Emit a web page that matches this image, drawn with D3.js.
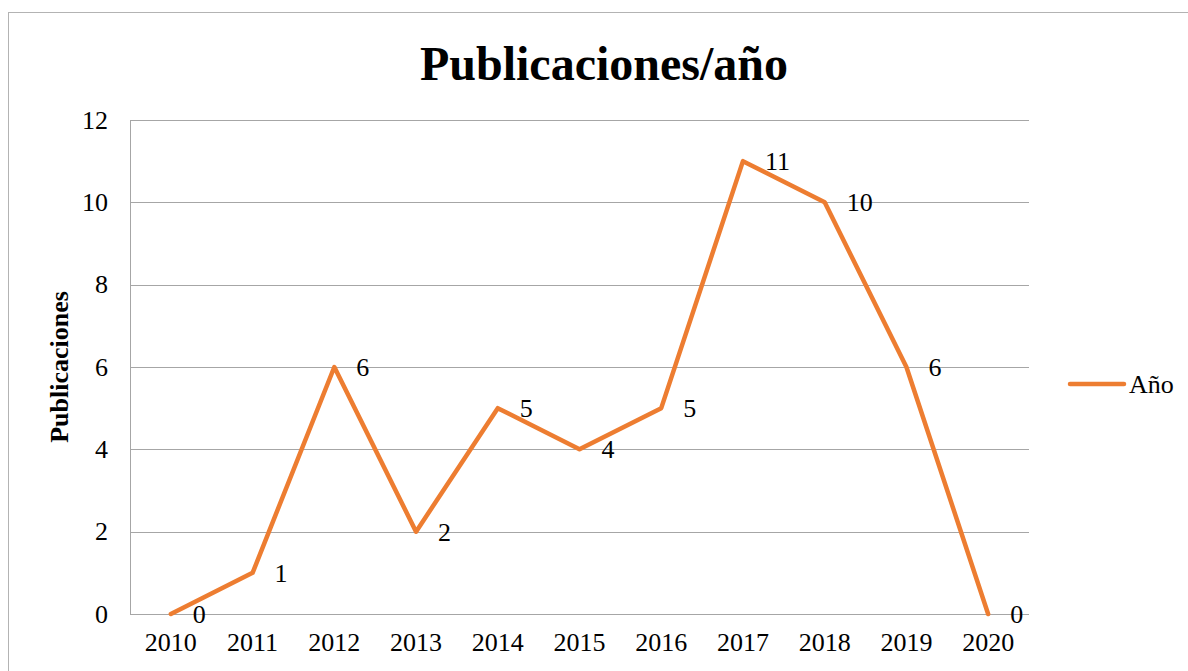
<!DOCTYPE html>
<html>
<head>
<meta charset="utf-8">
<script src="https://cdn.jsdelivr.net/npm/d3@7"></script>
<style>
  html, body { margin: 0; padding: 0; background: #fff; }
  text { font-family: "Liberation Serif", "Times New Roman", serif; fill: #000; }
</style>
</head>
<body>
<div id="chart"></div>
<script>
const years = ['2010', '2011', '2012', '2013', '2014', '2015', '2016', '2017', '2018', '2019', '2020'];
const publicaciones = [0, 1, 6, 2, 5, 4, 5, 11, 10, 6, 0];
const yTicks = [0, 2, 4, 6, 8, 10, 12];
const seriesName = 'Año';

const totalWidth = 1188;
const totalHeight = 671;
const plot = { left: 130, top: 120, right: 1029, bottom: 614 };
const orange = '#ED7D31';
const labelSize = '26px';

const svg = d3.select('#chart').append('svg')
    .attr('width', totalWidth)
    .attr('height', totalHeight);

// outer chart frame (runs past the right/bottom edge)
svg.append('rect')
    .attr('x', 8.5).attr('y', 12.5)
    .attr('width', 1200).attr('height', 700)
    .attr('fill', 'none')
    .attr('stroke', '#b3b3b3')
    .attr('stroke-width', 1);

svg.append('text')
    .attr('x', 604).attr('y', 80)
    .attr('text-anchor', 'middle')
    .style('font-size', '48px')
    .style('font-weight', 'bold')
    .text('Publicaciones/año');

const x = d3.scaleBand()
    .domain(years)
    .range([plot.left, plot.right]);

const y = d3.scaleLinear()
    .domain([0, 12])
    .range([plot.bottom, plot.top]);

// grid
svg.append('g')
    .selectAll('line')
    .data(yTicks)
    .enter()
    .append('line')
    .attr('x1', plot.left).attr('x2', plot.right)
    .attr('y1', d => Math.round(y(d)) + 0.5)
    .attr('y2', d => Math.round(y(d)) + 0.5)
    .attr('stroke', '#a6a6a6')
    .attr('stroke-width', 1);

// y axis line
svg.append('line')
    .attr('x1', plot.left + 0.5).attr('x2', plot.left + 0.5)
    .attr('y1', plot.top).attr('y2', plot.bottom)
    .attr('stroke', '#a6a6a6');

// y tick labels
const yAxis = svg.append('g')
    .attr('transform', `translate(${plot.left}, 0)`)
    .call(d3.axisLeft(y).tickValues(yTicks).tickSize(0).tickPadding(22));
yAxis.select('.domain').remove();
yAxis.selectAll('text')
    .style('font-size', labelSize)
    .style('font-family', '"Liberation Serif", serif')
    .attr('fill', '#000');

// x tick labels
const xAxis = svg.append('g')
    .attr('transform', `translate(0, ${plot.bottom})`)
    .call(d3.axisBottom(x).tickSize(0).tickPadding(19));
xAxis.select('.domain').remove();
xAxis.selectAll('text')
    .style('font-size', labelSize)
    .style('font-family', '"Liberation Serif", serif')
    .attr('fill', '#000');

svg.append('text')
    .attr('transform', `translate(68, ${(plot.top + plot.bottom) / 2}) rotate(-90)`)
    .attr('text-anchor', 'middle')
    .style('font-size', '26px')
    .style('font-weight', 'bold')
    .text('Publicaciones');

const cx = d => x(d) + x.bandwidth() / 2;
const points = years.map((yr, i) => ({ yr, v: publicaciones[i] }));

svg.append('path')
    .datum(points)
    .attr('fill', 'none')
    .attr('stroke', orange)
    .attr('stroke-width', 4.5)
    .attr('stroke-linejoin', 'round')
    .attr('stroke-linecap', 'round')
    .attr('d', d3.line().x(d => cx(d.yr)).y(d => y(d.v)));

// data labels
svg.append('g')
    .selectAll('text')
    .data(points)
    .enter()
    .append('text')
    .attr('x', d => cx(d.yr) + 22)
    .attr('y', d => y(d.v) + 9)
    .style('font-size', labelSize)
    .text(d => d.v);

// legend
svg.append('line')
    .attr('x1', 1070).attr('x2', 1124)
    .attr('y1', 384).attr('y2', 384)
    .attr('stroke', orange)
    .attr('stroke-width', 4.5)
    .attr('stroke-linecap', 'round');
svg.append('text')
    .attr('x', 1129).attr('y', 393)
    .style('font-size', labelSize)
    .text(seriesName);
</script>
</body>
</html>
